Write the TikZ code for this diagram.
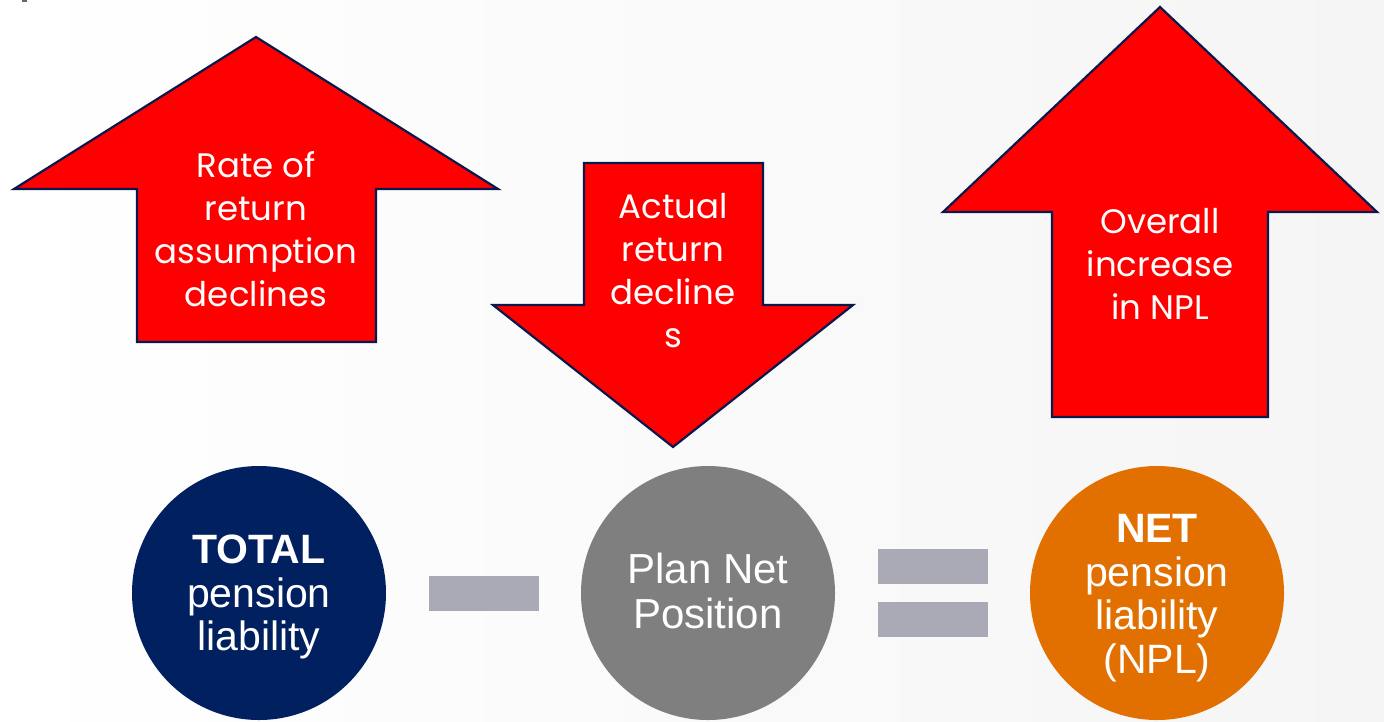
\documentclass[tikz,border=0pt]{standalone}
\usepackage{fontspec}
\setmainfont{Liberation Sans}
\newfontfamily\gothic{Poppins}
\definecolor{navy}{RGB}{0,32,96}
\definecolor{arrowline}{RGB}{10,25,75}
\definecolor{plangrey}{RGB}{127,127,127}
\definecolor{npl}{RGB}{226,112,0}
\definecolor{barcol}{RGB}{170,170,182}
\definecolor{bgright}{RGB}{245,245,246}
\tikzset{
  bigarrow/.style={fill=red, draw=arrowline, line width=2.2pt, line join=miter},
  arrowtext/.style={text=white, align=center, inner sep=0pt, font=\gothic\fontsize{34}{43}\selectfont},
  ball/.style={circle, minimum size=254pt, inner sep=0pt},
  balltext/.style={text=white, align=center, inner sep=0pt, font=\fontsize{41}{43.5}\selectfont},
  bar/.style={fill=barcol, inner sep=0pt, minimum width=110pt, minimum height=35pt}
}
\begin{document}
\begin{tikzpicture}[x=1pt,y=-1pt]
\useasboundingbox (0,0) rectangle (1384,721);
\shade[left color=white, right color=bgright] (0,0) rectangle (1384,721);
\fill[gray!80!black] (22,0) rectangle (27,2);
% arrow 1 (up)
\draw[bigarrow] (256,37) -- (498,189) -- (376,189) -- (376,342) -- (137,342) -- (137,189) -- (14,189) -- cycle;
\node[arrowtext] (t1) at (256,229) {Rate of\\return\\assumption\\declines};
% arrow 2 (down)
\draw[bigarrow] (584,163) -- (763,163) -- (763,305) -- (853,305) -- (673,447) -- (493,305) -- (584,305) -- cycle;
\node[arrowtext] (t2) at (673,271) {Actual\\return\\decline\\s};
% arrow 3 (up)
\draw[bigarrow] (1160,7) -- (1377,212) -- (1268,212) -- (1268,417) -- (1052,417) -- (1052,212) -- (943,212) -- cycle;
\node[arrowtext] (t3) at (1160,264) {Overall\\increase\\in NPL};
% circles
\node[ball, fill=navy] (total) at (259,593) {};
\node[balltext] (totaltext) at (259,597) {\textbf{TOTAL}\\pension\\liability};
\node[ball, fill=plangrey] (plan) at (708,593) {};
\node[balltext, font=\fontsize{42}{45}\selectfont] (plantext) at (708,591) {Plan Net\\Position};
\node[ball, fill=npl] (net) at (1157,593) {};
\node[balltext] (nettext) at (1157,598) {\textbf{NET}\\pension\\liability\\(NPL)};
% operators
\node[bar] (minus) at (483.5,593) {};
\node[bar] (eqtop) at (933,566.5) {};
\node[bar] (eqbot) at (933,619.5) {};
\end{tikzpicture}
\end{document}
